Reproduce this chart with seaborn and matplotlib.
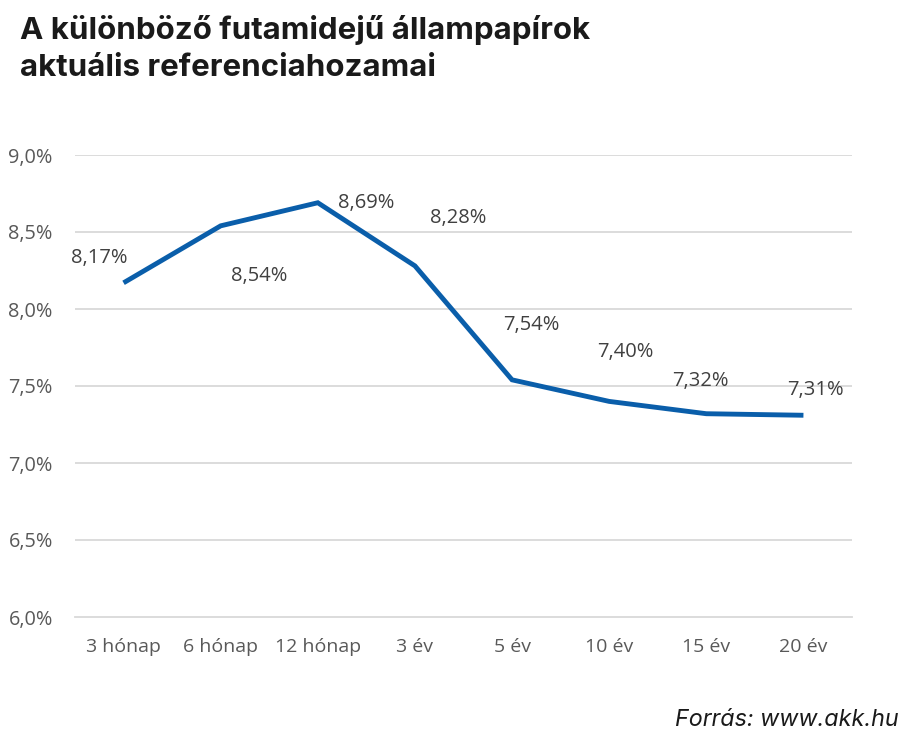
import matplotlib
matplotlib.use("Agg")
import matplotlib.pyplot as plt
import seaborn as sns
import numpy as np
import pandas as pd

categories = ["3 hónap", "6 hónap", "12 hónap", "3 év", "5 év", "10 év", "15 év", "20 év"]
yields = [8.17, 8.54, 8.69, 8.28, 7.54, 7.40, 7.32, 7.31]
y_ticks = [6.0, 6.5, 7.0, 7.5, 8.0, 8.5, 9.0]

title_lines = ["A különböző futamidejű állampapírok", "aktuális referenciahozamai"]
source = "Forrás: www.akk.hu"

# label offsets in pixels (dx, dy) relative to the point
label_offsets = [(-24, 25), (38, -50), (48, 0), (43, 48), (19, 55), (16, 49), (-6, 33), (12, 25)]

sns.set_theme(style="white")
plt.rcParams['font.family'] = ['Open Sans', 'DejaVu Sans']

df = pd.DataFrame({"pos": np.arange(len(categories)), "yield": yields})

fig = plt.figure(figsize=(9, 7.36), dpi=100)
ax = fig.add_axes([75/900, 1-617/736, (852-75)/900, (617-155)/736])

for t in y_ticks[1:]:
    ax.axhline(t, color="#d9d9d9", lw=1.3, zorder=0)

sns.lineplot(data=df, x="pos", y="yield", ax=ax, color="#0a5eaa", lw=3.5,
             solid_capstyle="butt", solid_joinstyle="miter", zorder=3)

for i, (v, (dx, dy)) in enumerate(zip(yields, label_offsets)):
    ax.annotate(f"{v:.2f}%".replace(".", ","), (i, v), xytext=(dx * 0.72, dy * 0.72),
                textcoords="offset points", ha="center", va="center",
                fontsize=14.5, color="#404040")

ax.set_xlim(-0.5, len(categories) - 0.5)
ax.set_ylim(6.0, 9.0)
ax.set_yticks(y_ticks)
ax.set_yticklabels([f"{t:.1f}%".replace(".", ",") for t in y_ticks], fontsize=14.3, color="#595959")
ax.set_xticks(np.arange(len(categories)))
ax.set_xticklabels(categories, fontsize=14, color="#595959")
ax.set_xticks(np.arange(len(categories) + 1) - 0.5, minor=True)
ax.tick_params(axis="x", which="major", length=0, pad=15)
ax.tick_params(axis="x", which="minor", length=6, color="#d9d9d9", width=1.3)
ax.tick_params(axis="y", length=0, pad=16)
ax.set_xlabel("")
ax.set_ylabel("")
for s in ["top", "right", "left"]:
    ax.spines[s].set_visible(False)
ax.spines["bottom"].set_color("#d9d9d9")
ax.spines["bottom"].set_linewidth(1.3)

for k, (line, base) in enumerate(zip(title_lines, [39, 76])):
    fig.text(20/900, 1-base/736, line, ha="left", va="baseline", fontsize=22.5,
             fontweight="bold", color="#1a1a1a", family=["Inter", "DejaVu Sans"])
fig.text(899/900, 1-726/736, source, ha="right", va="baseline", fontsize=16.8,
         style="italic", color="#1a1a1a", family=["Inter", "DejaVu Sans"])

fig.savefig("out.png", dpi=100)
